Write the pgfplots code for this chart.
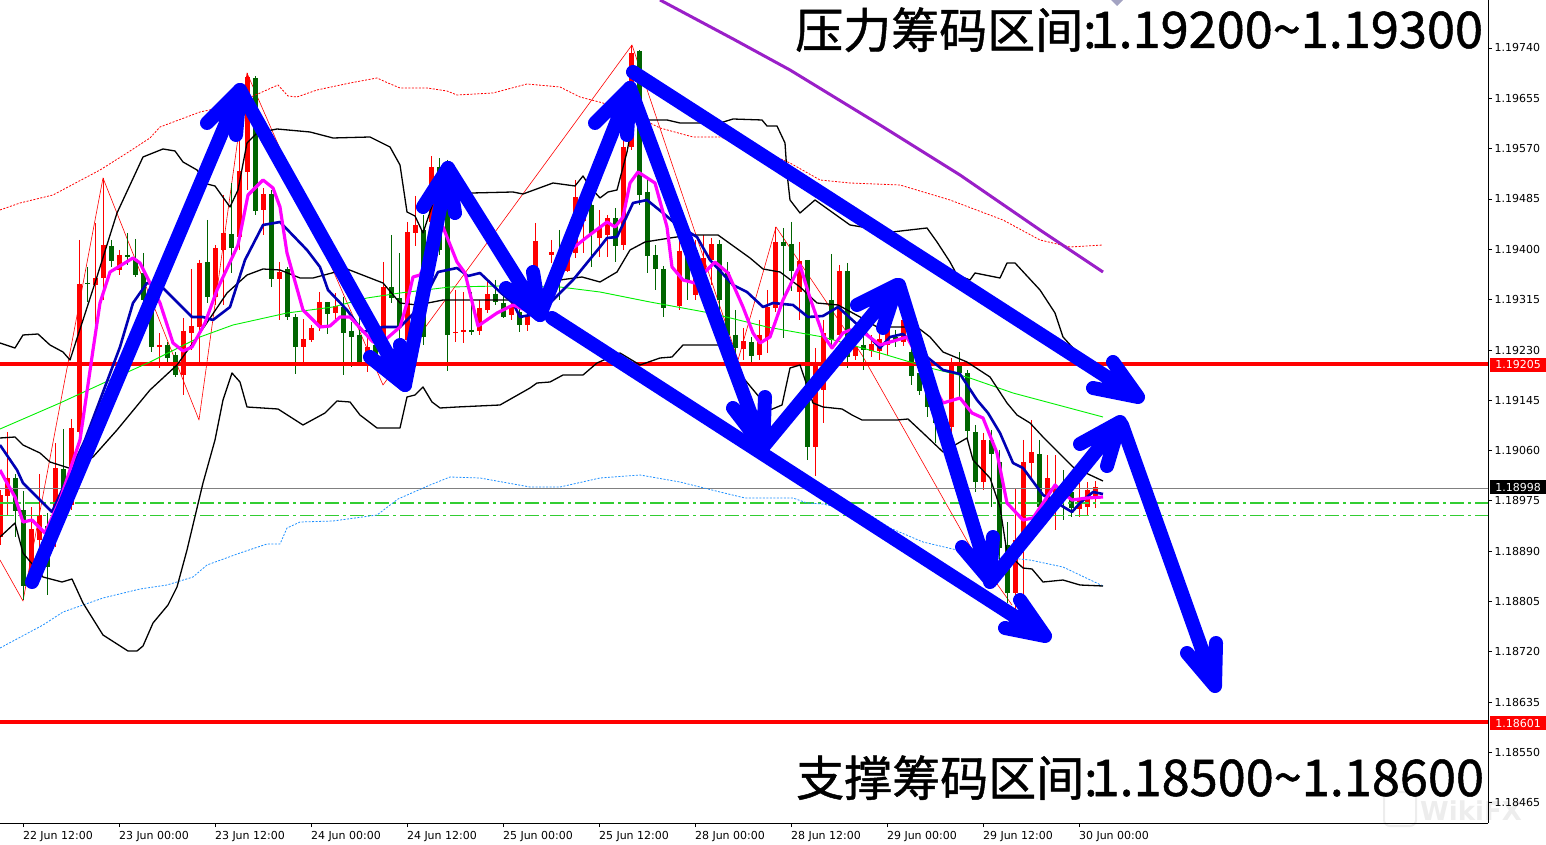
\documentclass[border=0pt]{standalone}
\usepackage{pgfplots}
\usepackage{pgfplotstable}
\usepackage{fontspec}
\pgfplotsset{compat=1.18}
\setmainfont{DejaVu Sans}
\newfontfamily\cjk[FakeBold=1]{Noto Sans CJK SC}
\definecolor{cred}{HTML}{FF0000}
\definecolor{cgreen}{HTML}{006400}
\definecolor{cblue}{HTML}{0000FF}
\definecolor{cnavy}{HTML}{0000B4}
\definecolor{cmag}{HTML}{FF00FF}
\definecolor{cpurple}{HTML}{9A1FC8}
\definecolor{clime}{HTML}{00F000}
\definecolor{cdot}{HTML}{1E90FF}
\definecolor{cdash}{HTML}{32CD32}
% Candles, read in chart rows of the picture: x, wick top, body top, body bottom, wick low
\pgfplotstableread{
x h t b l
0 490 495 537 545
7 432 478 496 515
31 507 529 573 580
39 474 515 540 560
55 443 468 533 547
71 419 428 505 510
79 240 284 432 440
95 223 278 285 335
103 178 245 278 300
119 250 255 270 275
159 333 345 347 368
183 318 331 375 395
191 269 326 333 350
199 260 263 327 365
215 245 248 297 305
223 195 233 250 305
239 140 171 237 250
247 73 77 172 190
263 188 194 210 235
279 262 272 279 320
303 319 339 347 363
311 325 328 340 342
319 292 302 326 331
335 293 306 313 322
367 335 347 365 372
383 262 287 337 347
407 222 232 340 345
415 196 225 233 246
431 156 167 222 235
455 290 332 333 342
463 292 330 332 343
479 300 308 331 335
487 280 294 310 313
511 300 307 315 320
527 303 315 325 331
535 223 241 307 310
551 240 252 255 263
567 232 253 271 272
575 180 197 253 258
583 196 212 221 253
599 210 228 238 257
607 215 218 235 257
623 130 147 245 250
631 45 53 147 150
679 240 251 306 310
695 240 250 295 300
703 235 258 290 300
711 238 244 260 285
743 328 341 349 360
759 320 335 355 360
767 290 307 338 353
775 227 242 308 312
799 242 261 292 320
815 348 363 447 476
823 320 333 390 423
839 265 271 335 340
855 330 347 356 360
871 335 344 351 357
879 330 339 351 360
887 320 330 345 355
903 315 320 342 346
951 358 363 427 435
983 433 440 482 490
1015 488 540 593 610
1023 440 462 540 595
1031 420 452 463 478
1047 455 478 502 512
1055 455 487 497 530
1079 483 498 509 517
1087 482 490 507 515
1095 481 487 497 508
}\redc
\pgfplotstableread{
x h t b l
15 474 478 511 537
23 491 510 586 600
47 513 526 567 595
63 429 469 503 510
87 267 283 284 302
111 240 246 261 267
127 233 255 257 265
135 239 259 275 277
143 253 273 300 303
151 297 307 347 352
167 342 345 358 362
175 352 355 375 377
207 220 262 297 303
231 183 234 248 273
255 76 78 211 215
271 190 194 279 287
287 267 269 317 320
295 314 317 347 374
327 302 302 314 334
343 297 307 333 375
351 322 331 337 367
359 315 335 362 365
375 330 345 362 368
391 235 287 298 303
399 253 298 327 345
423 215 230 337 345
439 158 167 250 255
447 160 207 335 371
471 292 330 332 335
495 280 294 302 305
503 293 303 317 318
519 300 312 325 332
559 230 262 280 300
591 193 205 234 267
615 208 218 246 262
639 50 51 195 205
647 180 192 256 273
655 245 255 269 290
663 266 269 308 317
687 235 248 280 300
719 240 244 300 310
727 262 272 335 340
735 310 335 348 360
751 337 342 356 362
783 228 242 246 338
791 222 244 271 291
807 260 260 447 460
831 254 300 340 345
847 263 271 357 368
863 335 345 350 370
895 330 337 341 347
911 335 352 376 385
919 350 373 391 395
927 375 390 407 417
935 395 400 423 443
959 352 362 373 400
967 370 373 431 440
975 425 432 482 492
991 430 440 454 507
999 450 462 548 560
1007 522 545 593 603
1039 440 454 507 517
1063 470 487 500 520
1071 485 492 508 517
}\greenc
\pgfplotsset{
 cand/.style n args={2}{draw=none,mark=none,forget plot,
  error bars/.cd,y dir=plus,y explicit,error mark=none,
  error bar style={draw=#1,line width=#2,solid}},
 arw/.style={cblue,line width=14bp,line cap=round,line join=round,forget plot,mark=none,unbounded coords=jump},
 ln/.style={mark=none,forget plot,line join=round},
}
\begin{document}
\begin{tikzpicture}[x=1bp,y=1bp]
\path[use as bounding box] (0,0) rectangle (1546,844);
% watermark, behind the chart
\draw[black!7,line width=2bp,rounded corners=6bp] (1384,18) rectangle (1416,52);
\node[anchor=base west,text=black!7,inner sep=0pt,font=\fontsize{26bp}{28bp}\selectfont\bfseries] at (1420,24) {WikiFX};
\begin{axis}[
 at={(0,-21)},anchor=south west,
 scale only axis,width=1488bp,height=823bp,
 xmin=0,xmax=1488,ymin=0,ymax=823,y dir=reverse,
 axis x line*=bottom,axis y line*=right,
 axis line style={black,line width=1bp,-},
 tick style={black,line width=0.8bp},
 major tick length=4bp,
 xtick={23,119,215,311,407,503,599,695,791,887,983,1079},
 xticklabels={22 Jun 12:00,23 Jun 00:00,23 Jun 12:00,24 Jun 00:00,24 Jun 12:00,25 Jun 00:00,25 Jun 12:00,28 Jun 00:00,28 Jun 12:00,29 Jun 00:00,29 Jun 12:00,30 Jun 00:00},
 ytick={48,98.3,148.6,199,249.2,299.5,350,400,450.3,500.8,551,601.3,651.5,702,752,802.3},
 yticklabels={1.19740,1.19655,1.19570,1.19485,1.19400,1.19315,1.19230,1.19145,1.19060,1.18975,1.18890,1.18805,1.18720,1.18635,1.18550,1.18465},
 xticklabel style={anchor=north west,xshift=-3.5bp,yshift=-1bp,font=\fontsize{11bp}{13bp}\selectfont},
 yticklabel style={anchor=west,xshift=-1bp,font=\fontsize{11bp}{13bp}\selectfont},
 tick align=outside,
]
% zigzag
\addplot[ln,cred,line width=0.6bp] coordinates {(0,560)(23,601)(103,178)(199,420)(247,73)(383,385)(632,45)(738,360)(776,227)(862,355)(970,546)(1012,605)};
% candles
\addplot[cand={cred}{1bp}] table[x=x,y=h,y error plus expr=\thisrow{l}-\thisrow{h}] {\redc};
\addplot[cand={cgreen}{1bp}] table[x=x,y=h,y error plus expr=\thisrow{l}-\thisrow{h}] {\greenc};
\addplot[cand={cred}{5bp}] table[x=x,y=t,y error plus expr=\thisrow{b}-\thisrow{t}] {\redc};
\addplot[cand={cgreen}{5bp}] table[x=x,y=t,y error plus expr=\thisrow{b}-\thisrow{t}] {\greenc};
% horizontal levels
\addplot[ln,gray,line width=1bp] coordinates {(0,488)(1488,488)};
\addplot[ln,cdash,line width=2bp,dash pattern=on 14bp off 4bp on 3bp off 4bp] coordinates {(0,502.5)(1488,502.5)};
\addplot[ln,cdash,line width=0.9bp,dash pattern=on 14bp off 4bp on 3bp off 4bp] coordinates {(0,515.5)(1488,515.5)};
\addplot[ln,cred,line width=4bp] coordinates {(0,364)(1488,364)};
\addplot[ln,cred,line width=4bp] coordinates {(0,722)(1488,722)};
% dotted bands
\addplot[ln,cred,line width=0.8bp,dash pattern=on 2bp off 1.5bp] coordinates {(0,210)(20,203)(53,195)(100,170)(127,153)(150,138)(160,127)(200,112)(233,105)(260,93)(278,85)(288,96)(297,97)(317,90)(350,83)(377,78)(388,83)(400,88)(427,88)(447,91)(457,95)(493,93)(527,84)(560,87)(580,97)(603,103)(640,118)(660,128)(693,137)(720,137)(760,150)(790,163)(820,180)(850,183)(900,185)(950,200)(1003,220)(1040,240)(1070,247)(1103,245)};
\addplot[ln,cdot,line width=0.8bp,dash pattern=on 2bp off 1.5bp] coordinates {(0,648)(43,625)(63,612)(103,598)(140,589)(167,585)(193,577)(207,565)(240,553)(267,544)(280,544)(287,528)(300,522)(333,521)(377,515)(398,499)(430,485)(450,477)(480,478)(530,487)(560,487)(600,478)(640,475)(680,482)(720,492)(745,498)(793,498)(807,503)(823,504)(870,515)(890,528)(923,542)(957,550)(1000,557)(1030,560)(1063,567)(1103,586)};
% green MA
\addplot[ln,clime,line width=0.9bp] coordinates {(0,429)(60,403)(110,380)(150,362)(200,337)(233,325)(287,313)(333,307)(367,298)(400,293)(450,287)(500,286)(560,287)(600,292)(650,302)(710,313)(767,327)(823,337)(880,353)(930,368)(967,377)(1013,393)(1103,417)};
% black bands
\addplot[ln,black,line width=1.3bp] coordinates {(0,343)(15,348)(23,335)(38,334)(50,345)(63,352)(70,360)(95,283)(117,213)(143,157)(163,149)(175,151)(183,162)(197,170)(207,184)(215,186)(230,207)(238,190)(247,143)(257,133)(277,129)(310,132)(333,138)(370,137)(390,147)(400,165)(407,212)(415,216)(423,233)(433,203)(450,193)(472,193)(513,192)(523,194)(553,183)(575,186)(583,176)(590,187)(600,198)(608,192)(617,190)(627,152)(633,120)(667,120)(680,123)(720,123)(733,119)(762,120)(767,126)(777,126)(785,143)(787,173)(790,200)(800,213)(815,200)(850,225)(892,232)(927,228)(937,242)(950,262)(957,275)(970,280)(975,273)(1000,278)(1007,263)(1015,263)(1040,290)(1055,313)(1063,337)(1073,348)(1090,362)};
\addplot[ln,black,line width=1.3bp] coordinates {(0,438)(15,437)(23,445)(40,453)(50,462)(72,469)(93,457)(117,430)(150,390)(177,365)(200,333)(227,293)(247,275)(263,269)(280,270)(300,278)(313,278)(347,269)(383,283)(400,303)(417,305)(433,302)(443,300)(513,300)(533,303)(560,280)(582,277)(600,282)(617,272)(630,250)(645,242)(670,238)(690,235)(718,235)(750,258)(763,269)(780,272)(800,287)(817,303)(838,305)(860,317)(877,327)(917,327)(930,337)(943,352)(967,362)(990,377)(1007,403)(1017,415)(1030,423)(1043,437)(1073,467)(1103,481)};
\addplot[ln,black,line width=1.3bp] coordinates {(0,537)(15,523)(23,553)(33,565)(43,577)(62,582)(72,579)(83,603)(103,635)(128,651)(137,651)(143,646)(153,623)(168,605)(177,587)(187,550)(203,483)(215,440)(223,400)(232,373)(240,382)(247,407)(278,409)(303,425)(325,413)(337,401)(350,402)(360,415)(377,428)(400,428)(407,397)(415,395)(423,387)(432,402)(440,408)(457,407)(500,405)(530,388)(537,383)(550,382)(563,375)(583,375)(597,363)(620,353)(640,365)(660,358)(672,357)(683,345)(720,345)(745,380)(770,410)(782,405)(790,368)(800,365)(813,403)(823,407)(842,409)(852,415)(862,420)(897,420)(908,419)(923,433)(943,452)(967,438)(973,460)(990,478)(1000,507)(1007,553)(1023,568)(1032,569)(1043,582)(1063,580)(1080,585)(1103,586)};
% navy MA
\addplot[ln,cnavy,line width=2.6bp] coordinates {(0,445)(17,470)(23,483)(40,500)(52,512)(85,440)(120,347)(133,303)(147,283)(160,285)(192,317)(203,317)(213,320)(230,307)(245,260)(263,225)(280,222)(307,250)(320,267)(328,290)(347,310)(363,332)(383,327)(400,327)(420,307)(438,272)(457,268)(468,276)(480,273)(500,292)(513,303)(520,317)(540,313)(573,280)(600,247)(607,238)(617,237)(633,203)(647,200)(663,213)(677,225)(697,237)(710,260)(733,285)(747,292)(763,307)(773,303)(793,305)(808,317)(823,316)(838,307)(860,327)(880,348)(890,337)(903,334)(927,357)(943,370)(960,374)(977,400)(988,413)(1000,433)(1013,463)(1023,468)(1043,495)(1057,503)(1072,512)(1080,503)(1093,492)(1103,494)};
% magenta MA
\addplot[ln,cmag,line width=3.2bp] coordinates {(0,470)(7,483)(15,497)(23,522)(32,520)(45,533)(60,500)(80,440)(93,350)(100,303)(110,272)(133,258)(140,263)(150,283)(160,303)(173,343)(183,351)(192,347)(205,323)(217,290)(238,245)(248,195)(263,180)(273,188)(280,207)(287,253)(303,310)(320,327)(330,326)(340,317)(350,317)(373,342)(385,340)(400,327)(407,303)(413,277)(420,275)(443,227)(457,262)(465,273)(478,326)(497,313)(513,305)(533,313)(567,253)(587,237)(607,222)(615,227)(623,217)(630,183)(638,172)(655,183)(667,227)(672,267)(683,280)(695,283)(707,270)(715,262)(728,273)(743,307)(753,333)(760,343)(770,337)(783,300)(800,265)(810,298)(823,335)(832,348)(843,333)(850,330)(863,332)(880,345)(897,340)(907,337)(943,403)(960,398)(972,413)(983,418)(997,453)(1007,503)(1023,520)(1033,518)(1047,497)(1055,485)(1063,493)(1072,500)(1087,498)(1103,497)};
% purple trend line
\addplot[ln,cpurple,line width=3bp] coordinates {(660,0)(735,40)(790,70)(880,125)(960,175)(1040,230)(1103,272)};
% blue hand-drawn arrows
\addplot[arw] coordinates {(552,318)(1045,636)(1005,628)(nan,nan)(1045,636)(1020,600)};
\addplot[arw] coordinates {(633,72)(1138,397)(1113,362)(nan,nan)(1138,397)(1093,388)};
\addplot[arw] coordinates {(32,582)(240,90)(207,123)(nan,nan)(240,90)(236,135)};
\addplot[arw] coordinates {(240,90)(405,385)(370,357)(nan,nan)(405,385)(400,345)};
\addplot[arw] coordinates {(405,385)(448,168)(423,207)(nan,nan)(448,168)(455,213)};
\addplot[arw] coordinates {(448,168)(540,315)(506,288)(nan,nan)(540,315)(533,272)};
\addplot[arw] coordinates {(540,315)(630,88)(595,123)(nan,nan)(630,88)(627,135)};
\addplot[arw] coordinates {(630,88)(763,447)(733,408)(nan,nan)(763,447)(765,397)};
\addplot[arw] coordinates {(763,447)(897,285)(857,305)(nan,nan)(897,285)(883,328)};
\addplot[arw] coordinates {(899,285)(990,580)(962,547)(nan,nan)(990,580)(993,537)};
\addplot[arw] coordinates {(990,582)(1120,422)(1080,444)(nan,nan)(1120,422)(1107,466)};
\addplot[arw] coordinates {(1122,425)(1215,686)(1187,653)(nan,nan)(1215,686)(1216,643)};
\end{axis}
% price tags
\node[fill=cred,text=white,minimum width=56bp,minimum height=14bp,inner sep=0pt,font=\fontsize{11bp}{13bp}\selectfont] at (1518,479) {1.19205};
\node[fill=cred,text=white,minimum width=56bp,minimum height=14bp,inner sep=0pt,font=\fontsize{11bp}{13bp}\selectfont] at (1518,121) {1.18601};
\node[fill=black,text=white,minimum width=56bp,minimum height=14bp,inner sep=0pt,font=\fontsize{11bp}{13bp}\selectfont] at (1518,357) {1.18998};
\fill[gray!80!blue!60] (1111,844) -- (1123,844) -- (1117,838) -- cycle;
% big captions
\node[anchor=base west,inner sep=0pt] at (795,796) {\cjk\fontsize{48bp}{50bp}\selectfont 压力筹码区间:\hspace{-6bp}\fontsize{50.5bp}{52bp}\selectfont 1.19200\textasciitilde 1.19300};
\node[anchor=base west,inner sep=0pt] at (796,48) {\cjk\fontsize{48bp}{50bp}\selectfont 支撑筹码区间:\hspace{-6bp}\fontsize{50.5bp}{52bp}\selectfont 1.18500\textasciitilde 1.18600};
\end{tikzpicture}
\end{document}
